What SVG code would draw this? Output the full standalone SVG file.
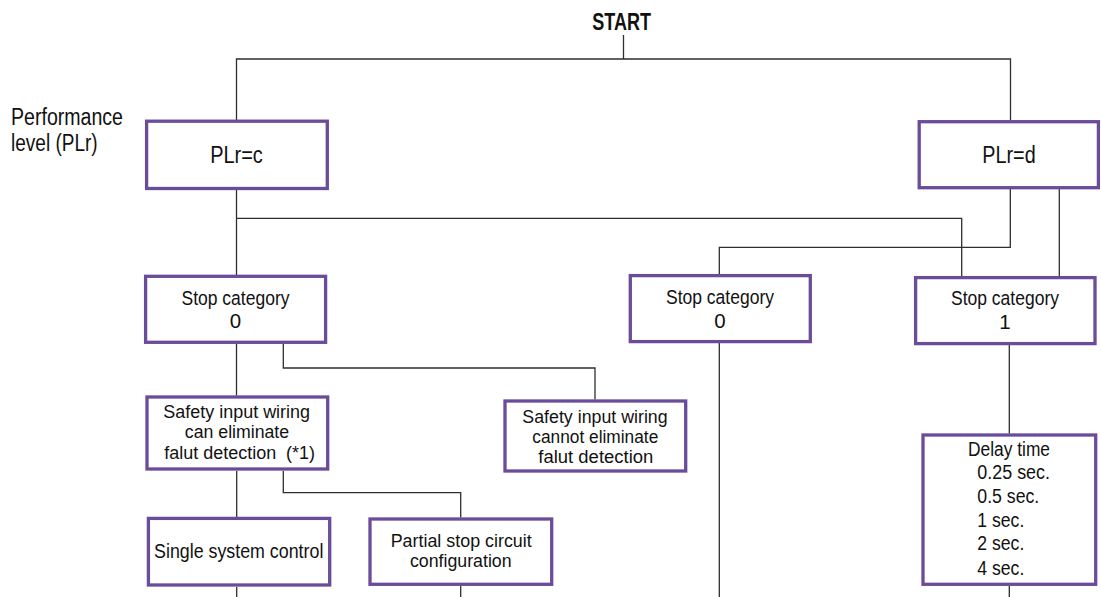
<svg xmlns="http://www.w3.org/2000/svg" width="1101" height="597" viewBox="0 0 1101 597">
<style>
  .box { fill: #ffffff; stroke: #6b4c9a; stroke-width: 3.3; }
  .conn { fill: none; stroke: #2e2e2e; stroke-width: 1.3; }
  text { font-family: "Liberation Sans", Arial, sans-serif; fill: #111111; }
  .c { text-anchor: middle; }
  .big { font-size: 23px; }
  .md { font-size: 20.5px; }
  .sm { font-size: 19.5px; }
  .tight { font-size: 17.5px; }
</style>
<rect x="0" y="0" width="1101" height="597" fill="#ffffff"/>

<g id="connectors">
  <path class="conn" d="M623.5 35 V59"/>
  <path class="conn" d="M236.5 120 V59 H1010.5 V120"/>
  <path class="conn" d="M236.5 190 V276"/>
  <path class="conn" d="M236.5 218.3 H961.7 V277"/>
  <path class="conn" d="M1010.3 189 V247.3 H719.3 V274"/>
  <path class="conn" d="M1059.3 189 V277"/>
  <path class="conn" d="M236.5 344 V395.5"/>
  <path class="conn" d="M283.3 344 V368 H595 V399.5"/>
  <path class="conn" d="M719.3 343 V597"/>
  <path class="conn" d="M1009.3 345 V433.5"/>
  <path class="conn" d="M236.7 471 V517"/>
  <path class="conn" d="M283.3 471 V492.7 H460.7 V517.5"/>
  <path class="conn" d="M236.7 587 V597"/>
  <path class="conn" d="M460.7 586 V597"/>
  <path class="conn" d="M1009.3 586 V597"/>
</g>

<g id="start">
  <text class="c" x="621.7" y="30" font-size="23" font-weight="bold" textLength="58.7" lengthAdjust="spacingAndGlyphs">START</text>
</g>

<g id="label-performance">
  <text class="big" x="11" y="125" textLength="112" lengthAdjust="spacingAndGlyphs">Performance</text>
  <text class="big" x="11" y="151" textLength="86.7" lengthAdjust="spacingAndGlyphs">level (PLr)</text>
</g>

<g id="plr-c">
  <rect class="box" x="146.6" y="121.2" width="180.7" height="67.3"/>
  <text class="c big" x="236.5" y="163.3" textLength="52.7" lengthAdjust="spacingAndGlyphs">PLr=c</text>
</g>

<g id="plr-d">
  <rect class="box" x="919.2" y="121.7" width="179.2" height="66"/>
  <text class="c big" x="1009" y="163.3" textLength="53.3" lengthAdjust="spacingAndGlyphs">PLr=d</text>
</g>

<g id="stop-cat-0-left">
  <rect class="box" x="145.6" y="276.3" width="180" height="66"/>
  <text class="c md" x="235.5" y="305" textLength="108" lengthAdjust="spacingAndGlyphs">Stop category</text>
  <text class="c md" x="235.5" y="328.3">0</text>
</g>

<g id="stop-cat-0-mid">
  <rect class="box" x="630.3" y="275.6" width="180" height="66"/>
  <text class="c md" x="720" y="304" textLength="108" lengthAdjust="spacingAndGlyphs">Stop category</text>
  <text class="c md" x="720" y="328">0</text>
</g>

<g id="stop-cat-1">
  <rect class="box" x="915.6" y="277.6" width="179.4" height="66"/>
  <text class="c md" x="1005" y="304.5" textLength="108" lengthAdjust="spacingAndGlyphs">Stop category</text>
  <text class="c md" x="1005" y="329">1</text>
</g>

<g id="safety-can">
  <rect class="box" x="147" y="397" width="180.7" height="72"/>
  <text class="c tight" x="236.7" y="418.3" textLength="146.7" lengthAdjust="spacingAndGlyphs">Safety input wiring</text>
  <text class="c tight" x="237" y="438.3" textLength="104.3" lengthAdjust="spacingAndGlyphs">can eliminate</text>
  <text class="c tight" x="239.7" y="459" xml:space="preserve" textLength="150.7" lengthAdjust="spacingAndGlyphs">falut detection  (*1)</text>
</g>

<g id="safety-cannot">
  <rect class="box" x="505" y="401" width="180.7" height="70"/>
  <text class="c tight" x="595" y="423.3" textLength="145.3" lengthAdjust="spacingAndGlyphs">Safety input wiring</text>
  <text class="c tight" x="595.3" y="443.3" textLength="126" lengthAdjust="spacingAndGlyphs">cannot eliminate</text>
  <text class="c tight" x="595.8" y="462.7" textLength="115" lengthAdjust="spacingAndGlyphs">falut detection</text>
</g>

<g id="single-system">
  <rect class="box" x="148.4" y="518.4" width="181.3" height="66.6"/>
  <text class="c md" x="238.7" y="558.3" textLength="169.3" lengthAdjust="spacingAndGlyphs">Single system control</text>
</g>

<g id="partial-stop">
  <rect class="box" x="370" y="519" width="181.7" height="65.3"/>
  <text class="c tight" x="461.2" y="546.7" textLength="141" lengthAdjust="spacingAndGlyphs">Partial stop circuit</text>
  <text class="c tight" x="460.8" y="566.5" textLength="101.7" lengthAdjust="spacingAndGlyphs">configuration</text>
</g>

<g id="delay-time">
  <rect class="box" x="923" y="435" width="172.7" height="149.3"/>
  <text class="sm" x="968" y="456" textLength="82" lengthAdjust="spacingAndGlyphs">Delay time</text>
  <text class="sm" x="977.3" y="478.7" textLength="72.7" lengthAdjust="spacingAndGlyphs">0.25 sec.</text>
  <text class="sm" x="977.3" y="503" textLength="62" lengthAdjust="spacingAndGlyphs">0.5 sec.</text>
  <text class="sm" x="977.3" y="526.7" textLength="47" lengthAdjust="spacingAndGlyphs">1 sec.</text>
  <text class="sm" x="977.3" y="550" textLength="47" lengthAdjust="spacingAndGlyphs">2 sec.</text>
  <text class="sm" x="977.3" y="574.5" textLength="47" lengthAdjust="spacingAndGlyphs">4 sec.</text>
</g>
</svg>
